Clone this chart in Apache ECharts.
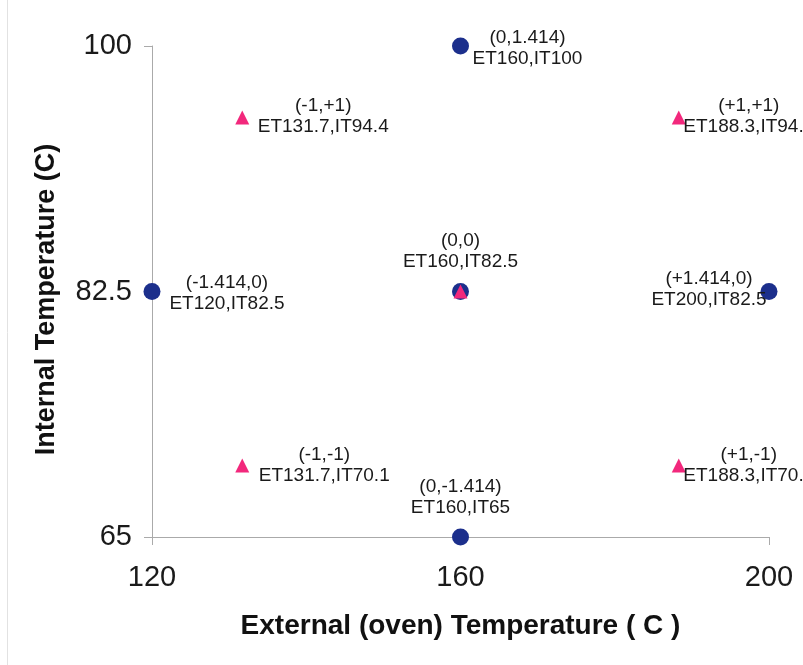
<!DOCTYPE html>
<html>
<head>
<meta charset="utf-8">
<script src="https://cdn.jsdelivr.net/npm/echarts@6/dist/echarts.min.js"></script>
<style>
  html, body { margin: 0; padding: 0; background: #fff; }
  #main { width: 803px; height: 665px; }
</style>
</head>
<body>
<div id="main"></div>
<script>
// axial / centre runs (blue circles)
var axialX = [120, 160, 200, 160, 160];
var axialY = [82.5, 100, 82.5, 65, 82.5];
var axialCode = ['(-1.414,0)', '(0,1.414)', '(+1.414,0)', '(0,-1.414)', '(0,0)'];
var axialText = ['ET120,IT82.5', 'ET160,IT100', 'ET200,IT82.5', 'ET160,IT65', 'ET160,IT82.5'];

// factorial runs (pink triangles)
var factX = [131.7, 188.3, 131.7, 188.3, 160];
var factY = [94.9, 94.9, 70.1, 70.1, 82.5];
var factCode = ['(-1,+1)', '(+1,+1)', '(-1,-1)', '(+1,-1)', ''];
var factText = ['ET131.7,IT94.4', 'ET188.3,IT94.5', 'ET131.7,IT70.1', 'ET188.3,IT70.1', ''];

var xTicks = [120, 160, 200];
var yTicks = [65, 82.5, 100];

// label offsets from the mark centre (px)
var axialOff = [[75, 2], [67, 2], [-60, -2], [0, -40], [0, -40]];
var factOff = [[81, -1], [70, -1], [82, 0], [70, 0], [0, 0]];

var FONT = '"Liberation Sans", Arial, sans-serif';

function buildData(xs, ys, codes, texts, offs) {
    return xs.map(function (x, i) {
        return {
            value: [x, ys[i]],
            label: {
                show: codes[i] !== '',
                formatter: codes[i] + '\n' + texts[i],
                offset: offs[i]
            }
        };
    });
}

var labelStyle = {
    position: 'inside',
    align: 'center',
    verticalAlign: 'middle',
    color: '#1a1a1a',
    fontFamily: FONT,
    fontSize: 19,
    lineHeight: 21
};

var myChart = echarts.init(document.getElementById('main'));
var option = {
    backgroundColor: '#fff',
    animation: false,
    // faint frame edge on the left
    graphic: [{
        type: 'line', silent: true,
        shape: { x1: 7.5, y1: 0, x2: 7.5, y2: 665 },
        style: { stroke: '#e2e2e2', lineWidth: 1 }
    }],
    grid: { left: 152, right: 34, top: 46, bottom: 128 },
    xAxis: {
        type: 'value',
        min: 120, max: 200, interval: 40,
        name: 'External (oven) Temperature ( C )',
        nameLocation: 'middle',
        nameGap: 75,
        nameTextStyle: { fontFamily: FONT, fontSize: 28, fontWeight: 'bold', color: '#111' },
        axisLine: { show: true, lineStyle: { color: '#aaa', width: 1 } },
        axisTick: { show: true, length: 8, lineStyle: { color: '#aaa' } },
        axisLabel: {
            margin: 26, fontFamily: FONT, fontSize: 29, color: '#1a1a1a',
            formatter: function (v) { return xTicks.indexOf(v) >= 0 ? String(v) : ''; }
        },
        splitLine: { show: false }
    },
    yAxis: {
        type: 'value',
        min: 65, max: 100, interval: 17.5,
        name: 'Internal Temperature (C)',
        nameLocation: 'middle',
        nameGap: 92,
        nameTextStyle: {
            fontFamily: FONT, fontSize: 27, fontWeight: 'bold', color: '#111',
            padding: [0, 16, 0, 0]
        },
        axisLine: { show: true, lineStyle: { color: '#aaa', width: 1 } },
        axisTick: { show: true, length: 8, lineStyle: { color: '#aaa' } },
        axisLabel: {
            margin: 20, fontFamily: FONT, fontSize: 29, color: '#1a1a1a',
            formatter: function (v) { return yTicks.indexOf(v) >= 0 ? String(v) : ''; }
        },
        splitLine: { show: false }
    },
    series: [
        {
            name: 'axial',
            type: 'scatter',
            symbol: 'circle',
            symbolSize: 17,
            itemStyle: { color: '#1c2f8c', opacity: 1 },
            label: labelStyle,
            z: 2,
            data: buildData(axialX, axialY, axialCode, axialText, axialOff)
        },
        {
            name: 'factorial',
            type: 'scatter',
            symbol: 'triangle',
            symbolSize: 14,
            itemStyle: { color: '#f2287c', opacity: 1 },
            label: labelStyle,
            z: 3,
            data: buildData(factX, factY, factCode, factText, factOff)
        }
    ]
};
myChart.setOption(option);
</script>
</body>
</html>
